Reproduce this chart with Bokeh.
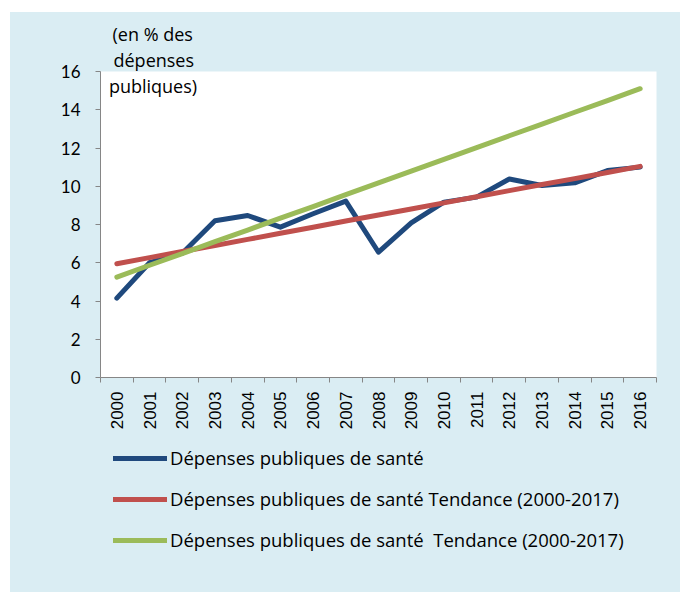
import math
from bokeh.plotting import figure
from bokeh.layouts import column, row
from bokeh.models import (Range1d, FixedTicker, Legend, LegendItem, Label, Title,
                          ColumnDataSource, Spacer)
from bokeh.embed import file_html
from bokeh.resources import INLINE

years = ["2000", "2001", "2002", "2003", "2004", "2005", "2006", "2007", "2008",
         "2009", "2010", "2011", "2012", "2013", "2014", "2015", "2016"]
depenses = [4.15, 6.0, 6.5, 8.2, 8.47, 7.86, 8.56, 9.22, 6.55, 8.09, 9.17, 9.43,
            10.38, 10.04, 10.18, 10.82, 11.0]
tendance_rouge = [5.95, 6.27, 6.59, 6.90, 7.22, 7.54, 7.86, 8.18, 8.50, 8.81, 9.13,
                  9.45, 9.77, 10.09, 10.40, 10.72, 11.04]
tendance_verte = [5.25, 5.87, 6.48, 7.10, 7.71, 8.33, 8.94, 9.56, 10.18, 10.79, 11.41,
                  12.02, 12.64, 13.25, 13.87, 14.48, 15.10]
y_ticks = [0, 2, 4, 6, 8, 10, 12, 14, 16]
labels = ["Dépenses publiques de santé",
          "Dépenses publiques de santé Tendance (2000-2017)",
          "Dépenses publiques de santé  Tendance (2000-2017)"]
titre = ["(en % des", "dépenses", "publiques)"]
couleurs = ["#1F497D", "#C0504D", "#9BBB59"]

BG = "#DAEDF3"
AX = "#868686"
FONT = "Open Sans"
TFS = "18px"

xs = [i + 0.5 for i in range(len(years))]
src = ColumnDataSource(dict(x=xs, d=depenses, r=tendance_rouge, v=tendance_verte))
series = ["d", "r", "v"]

p = figure(output_backend="svg", toolbar_location=None,
           x_range=Range1d(0, len(years)), y_range=Range1d(0, 16),
           frame_width=556, frame_height=306,
           min_border_left=90, min_border_top=59, min_border_right=24,
           min_border_bottom=68)
p.border_fill_color = BG
p.background_fill_color = "white"
p.outline_line_color = None
p.xgrid.visible = False
p.ygrid.visible = False

for s, c in zip(series, couleurs):
    p.line("x", s, source=src, line_color=c, line_width=5, line_join="round", line_cap="round")

# y axis
ya = p.yaxis[0]
ya.ticker = FixedTicker(ticks=y_ticks, minor_ticks=[])
ya.axis_line_color = AX
ya.major_tick_line_color = AX
ya.major_tick_out = 5
ya.major_tick_in = 0
ya.minor_tick_line_color = None
ya.major_label_text_font = "Lato"
ya.major_label_text_font_size = "17px"
ya.major_label_text_color = "black"
ya.major_label_standoff = 15

# x axis
xa = p.xaxis[0]
xa.ticker = FixedTicker(ticks=xs, minor_ticks=list(range(len(years) + 1)))
xa.major_label_overrides = {x: y for x, y in zip(xs, years)}
xa.axis_line_color = AX
xa.major_tick_line_color = None
xa.minor_tick_line_color = AX
xa.minor_tick_out = 5
xa.minor_tick_in = 0
xa.major_label_orientation = math.pi / 2
xa.major_label_text_font = "Liberation Sans"
xa.major_label_text_font_size = "17px"
xa.major_label_text_color = "black"
xa.major_label_standoff = 8

# title lines (two above the frame, one inside)
p.add_layout(Title(text=titre[1], align="left", offset=13, standoff=0,
                   text_font=FONT, text_font_size=TFS, text_font_style="normal",
                   text_color="black"), "above")
p.add_layout(Title(text=titre[0], align="left", offset=12, standoff=0,
                   text_font=FONT, text_font_size=TFS, text_font_style="normal",
                   text_color="black"), "above")
p.add_layout(Label(x=52.5, y=292, x_units="screen", y_units="screen", text=titre[2],
                   text_align="center", text_baseline="middle", text_font=FONT,
                   text_font_size=TFS, text_color="black"))

# legend panel (series drawn far outside its view; only the legend shows)
lg = figure(width=670, height=147, output_backend="svg", toolbar_location=None,
            x_range=Range1d(0, len(years)), y_range=Range1d(100, 101),
            min_border=0, x_axis_type=None, y_axis_type=None)
lg.background_fill_color = BG
lg.border_fill_color = BG
lg.outline_line_color = None
lg.xgrid.visible = False
lg.ygrid.visible = False
items = []
for lab, s, c in zip(labels, series, couleurs):
    rr = lg.line("x", s, source=src, line_color=c, line_width=5, line_cap="round")
    items.append(LegendItem(label=lab, renderers=[rr]))
legend = Legend(items=items, location=(103, 40), orientation="vertical")
legend.border_line_color = None
legend.background_fill_alpha = 0
legend.label_text_font = FONT
legend.label_text_font_size = "18.5px"
legend.label_text_color = "black"
legend.glyph_width = 54
legend.glyph_height = 20
legend.label_height = 20
legend.label_standoff = 3
legend.spacing = 16
legend.padding = 0
legend.margin = 0
lg.add_layout(legend)

inner = column(p, row(lg, styles={"background-color": BG}),
               styles={"background-color": BG})
layout = column(Spacer(height=12), row(Spacer(width=10), inner))
open("out.html", "w").write(file_html(layout, INLINE))
